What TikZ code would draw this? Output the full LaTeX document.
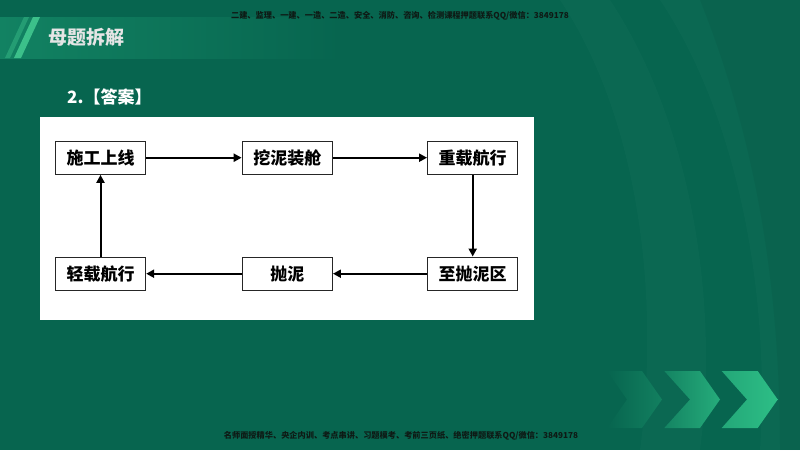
\documentclass[tikz,border=0pt]{standalone}
\usepackage{fontspec}
\newfontfamily\cjk{Noto Sans CJK SC}
\usetikzlibrary{arrows.meta}
\definecolor{bg}{HTML}{07654F}
\definecolor{barlight}{HTML}{128262}
\definecolor{stripe}{HTML}{3CC08A}
\definecolor{chev}{HTML}{2DBE86}
\definecolor{wmtext}{HTML}{0E1A15}
\tikzset{
  flowbox/.style={draw=black!85, line width=1.3pt, fill=white, minimum width=90pt, minimum height=33pt, inner sep=0pt, font=\cjk\bfseries\fontsize{17}{17}\selectfont},
  flowarrow/.style={line width=2pt, -{Triangle[length=8pt,width=8pt]}},
  smalltext/.style={font=\cjk\bfseries\fontsize{8.2}{8.5}\selectfont, text=wmtext, inner sep=0pt}
}
\begin{document}
\begin{tikzpicture}[x=1pt,y=-1pt]
\useasboundingbox (0,0) rectangle (800,450);
\fill[bg] (0,0) rectangle (800,450);
% faint background streaks on the right
\fill[white, opacity=0.02] (560,0) .. controls (640,120) and (660,300) .. (640,450) -- (700,450) .. controls (720,300) and (690,120) .. (610,0) -- cycle;
\fill[white, opacity=0.018] (660,0) .. controls (740,120) and (770,300) .. (760,450) -- (800,450) -- (800,0) -- cycle;
\fill[black, opacity=0.04] (700,0) .. controls (760,150) and (780,300) .. (780,450) -- (800,450) -- (800,0) -- cycle;
% title bar
\shade[left color=barlight, right color=bg] (0,17) rectangle (340,58);
\fill[stripe, opacity=0.45] (24,17) -- (29,17) -- (10,58) -- (5,58) -- cycle;
\fill[stripe] (33,17) -- (40,17) -- (21,58) -- (14,58) -- cycle;
\node[font=\cjk\bfseries\fontsize{19}{19}\selectfont, text=white!90!black, anchor=west, inner sep=0pt] (title) at (48,37) {母题拆解};
% header and footer
\node[smalltext] (header) at (400,16) {二建、监理、一建、一造、二造、安全、消防、咨询、检测课程押题联系QQ/微信：3849178};
\node[smalltext] (footer) at (401,436) {名师面授精华、央企内训、考点串讲、习题模考、考前三页纸、绝密押题联系QQ/微信：3849178};
% answer label
\node[font=\cjk\bfseries\fontsize{17}{17}\selectfont, text=white, anchor=west, inner sep=0pt] (ans) at (67,97) {2.【答案】};
% white panel
\fill[white] (40,117) rectangle (534,320);
% flow boxes
\node[flowbox] (b1) at (100.5,157.7) {施工上线};
\node[flowbox] (b2) at (287.3,157.7) {挖泥装舱};
\node[flowbox] (b3) at (472.7,157.7) {重载航行};
\node[flowbox] (b4) at (472.7,273.7) {至抛泥区};
\node[flowbox] (b5) at (287.3,273.7) {抛泥};
\node[flowbox] (b6) at (100.5,273.7) {轻载航行};
\draw[flowarrow] (b1) -- (b2);
\draw[flowarrow] (b2) -- (b3);
\draw[flowarrow] (b3) -- (b4);
\draw[flowarrow] (b4) -- (b5);
\draw[flowarrow] (b5) -- (b6);
\draw[flowarrow] (b6) -- (b1);
% chevrons
\shade[left color=bg, right color=chev!30!bg] (607,371) -- (642,371) -- (662,399.5) -- (642,428) -- (607,428) -- (627,399.5) -- cycle;
\shade[left color=chev!35!bg, right color=chev!80!bg] (664.3,371) -- (700,371) -- (720,399.5) -- (700,428) -- (664.3,428) -- (690,399.5) -- cycle;
\shade[left color=chev!75!bg, right color=chev] (721.7,371) -- (757.7,371) -- (777.7,399.5) -- (757.7,428) -- (721.7,428) -- (747,399.5) -- cycle;
\end{tikzpicture}
\end{document}
